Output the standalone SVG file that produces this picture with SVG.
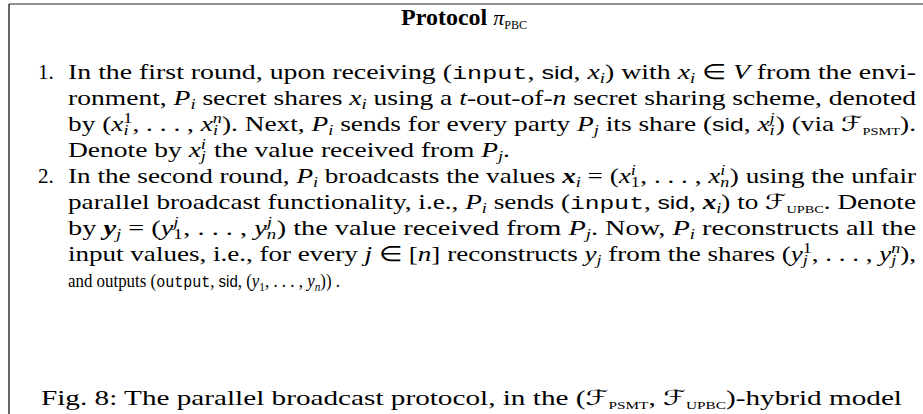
<svg xmlns="http://www.w3.org/2000/svg" width="923" height="414" viewBox="0 0 923 414">
<style>
.t{font-family:"Liberation Serif",serif;font-size:21px;fill:#000}
.b{font-weight:bold}
.i{font-style:italic}
.bi{font-style:italic;font-weight:bold}
.tt{font-family:"Liberation Mono",monospace;font-size:19px}
.sf{font-family:"Liberation Sans",sans-serif;font-size:19px}
.s{font-size:14px}
.sc{font-size:11px}
.cal{font-family:"DejaVu Serif","DejaVu Sans",serif;font-style:italic}
.small{font-size:18px}
.small .tt,.small .sf{font-size:16px}
.small .s{font-size:12px}
.ttl{font-size:24px}
.ttl .pi{font-size:22px;font-weight:normal}
.ttl .sc{font-size:12px;font-weight:normal}
</style>
<rect width="923" height="414" fill="#fff"/>
<g id="frame">
<line x1="9" y1="4" x2="923" y2="4" stroke="#6e6e6e" stroke-width="1.3"/>
<line x1="9" y1="4" x2="9" y2="414" stroke="#000" stroke-width="1.2"/>
</g>
<g id="title">
<text class="t b ttl" x="464" y="25" text-anchor="middle">Protocol <tspan class="i pi">π</tspan><tspan class="sc" baseline-shift="-4">PBC</tspan></text>
</g>
<g id="step1">
<text class="t" x="38" y="79">1.</text>
<text class="t" x="68" y="79" textLength="848" lengthAdjust="spacingAndGlyphs">In the first round, upon receiving (<tspan class="tt">input</tspan>, <tspan class="sf">sid</tspan>, <tspan class="i">x</tspan><tspan class="s i" baseline-shift="-4">i</tspan>) with <tspan class="i">x</tspan><tspan class="s i" baseline-shift="-4">i</tspan> ∈ <tspan class="i">V</tspan> from the envi-</text>
<text class="t" x="68" y="105" textLength="848" lengthAdjust="spacingAndGlyphs">ronment, <tspan class="i">P</tspan><tspan class="s i" baseline-shift="-4">i</tspan> secret shares <tspan class="i">x</tspan><tspan class="s i" baseline-shift="-4">i</tspan> using a <tspan class="i">t</tspan>-out-of-<tspan class="i">n</tspan> secret sharing scheme, denoted</text>
<text class="t" x="68" y="131" textLength="848" lengthAdjust="spacingAndGlyphs">by (<tspan class="i">x</tspan><tspan class="s i" baseline-shift="-4">i</tspan><tspan class="s" baseline-shift="8" dx="-4">1</tspan>, . . . , <tspan class="i">x</tspan><tspan class="s i" baseline-shift="-4">i</tspan><tspan class="s i" baseline-shift="8" dx="-4">n</tspan>). Next, <tspan class="i">P</tspan><tspan class="s i" baseline-shift="-4">i</tspan> sends for every party <tspan class="i">P</tspan><tspan class="s i" baseline-shift="-4">j</tspan> its share (<tspan class="sf">sid</tspan>, <tspan class="i">x</tspan><tspan class="s i" baseline-shift="-4">i</tspan><tspan class="s i" baseline-shift="8" dx="-4">j</tspan><tspan dx="1">)</tspan> (via <tspan class="cal">ℱ</tspan><tspan class="sc" baseline-shift="-4">PSMT</tspan>).</text>
<text class="t" x="68" y="157" textLength="442" lengthAdjust="spacingAndGlyphs">Denote by <tspan class="i">x</tspan><tspan class="s i" baseline-shift="-4">j</tspan><tspan class="s i" baseline-shift="8" dx="-4">i</tspan><tspan dx="1"> the value received from </tspan><tspan class="i">P</tspan><tspan class="s i" baseline-shift="-4">j</tspan>.</text>
</g>
<g id="step2">
<text class="t" x="38" y="183">2.</text>
<text class="t" x="68" y="183" textLength="848" lengthAdjust="spacingAndGlyphs">In the second round, <tspan class="i">P</tspan><tspan class="s i" baseline-shift="-4">i</tspan> broadcasts the values <tspan class="bi">x</tspan><tspan class="s i" baseline-shift="-4">i</tspan> = (<tspan class="i">x</tspan><tspan class="s" baseline-shift="-4">1</tspan><tspan class="s i" baseline-shift="8" dx="-7">i</tspan><tspan dx="3.5">, . . . , </tspan><tspan class="i">x</tspan><tspan class="s i" baseline-shift="-4">n</tspan><tspan class="s i" baseline-shift="8" dx="-7">i</tspan><tspan dx="3.5">) using the unfair</tspan></text>
<text class="t" x="68" y="209" textLength="848" lengthAdjust="spacingAndGlyphs">parallel broadcast functionality, i.e., <tspan class="i">P</tspan><tspan class="s i" baseline-shift="-4">i</tspan> sends (<tspan class="tt">input</tspan>, <tspan class="sf">sid</tspan>, <tspan class="bi">x</tspan><tspan class="s i" baseline-shift="-4">i</tspan>) to <tspan class="cal">ℱ</tspan><tspan class="sc" baseline-shift="-4">UPBC</tspan>. Denote</text>
<text class="t" x="68" y="235" textLength="848" lengthAdjust="spacingAndGlyphs">by <tspan class="bi">y</tspan><tspan class="s i" baseline-shift="-4">j</tspan> = (<tspan class="i">y</tspan><tspan class="s" baseline-shift="-4">1</tspan><tspan class="s i" baseline-shift="8" dx="-7">j</tspan><tspan dx="3.5">, . . . , </tspan><tspan class="i">y</tspan><tspan class="s i" baseline-shift="-4">n</tspan><tspan class="s i" baseline-shift="8" dx="-7">j</tspan><tspan dx="3.5">) the value received from </tspan><tspan class="i">P</tspan><tspan class="s i" baseline-shift="-4">j</tspan>. Now, <tspan class="i">P</tspan><tspan class="s i" baseline-shift="-4">i</tspan> reconstructs all the</text>
<text class="t" x="68" y="261" textLength="848" lengthAdjust="spacingAndGlyphs">input values, i.e., for every <tspan class="i">j</tspan> ∈ [<tspan class="i">n</tspan>] reconstructs <tspan class="i">y</tspan><tspan class="s i" baseline-shift="-4">j</tspan> from the shares (<tspan class="i">y</tspan><tspan class="s i" baseline-shift="-4">j</tspan><tspan class="s" baseline-shift="8" dx="-4">1</tspan>, . . . , <tspan class="i">y</tspan><tspan class="s i" baseline-shift="-4">j</tspan><tspan class="s i" baseline-shift="8" dx="-4">n</tspan>),</text>
<text class="t small" x="68" y="287" textLength="272" lengthAdjust="spacingAndGlyphs">and outputs (<tspan class="tt">output</tspan>, <tspan class="sf">sid</tspan>, (<tspan class="i">y</tspan><tspan class="s" baseline-shift="-4">1</tspan>, . . . , <tspan class="i">y</tspan><tspan class="s i" baseline-shift="-4">n</tspan>)) .</text>
</g>
<g id="caption">
<text class="t" x="41" y="405" textLength="861" lengthAdjust="spacingAndGlyphs">Fig. 8: The parallel broadcast protocol, in the (<tspan class="cal">ℱ</tspan><tspan class="sc" baseline-shift="-4">PSMT</tspan>, <tspan class="cal">ℱ</tspan><tspan class="sc" baseline-shift="-4">UPBC</tspan>)-hybrid model</text>
</g>
</svg>
